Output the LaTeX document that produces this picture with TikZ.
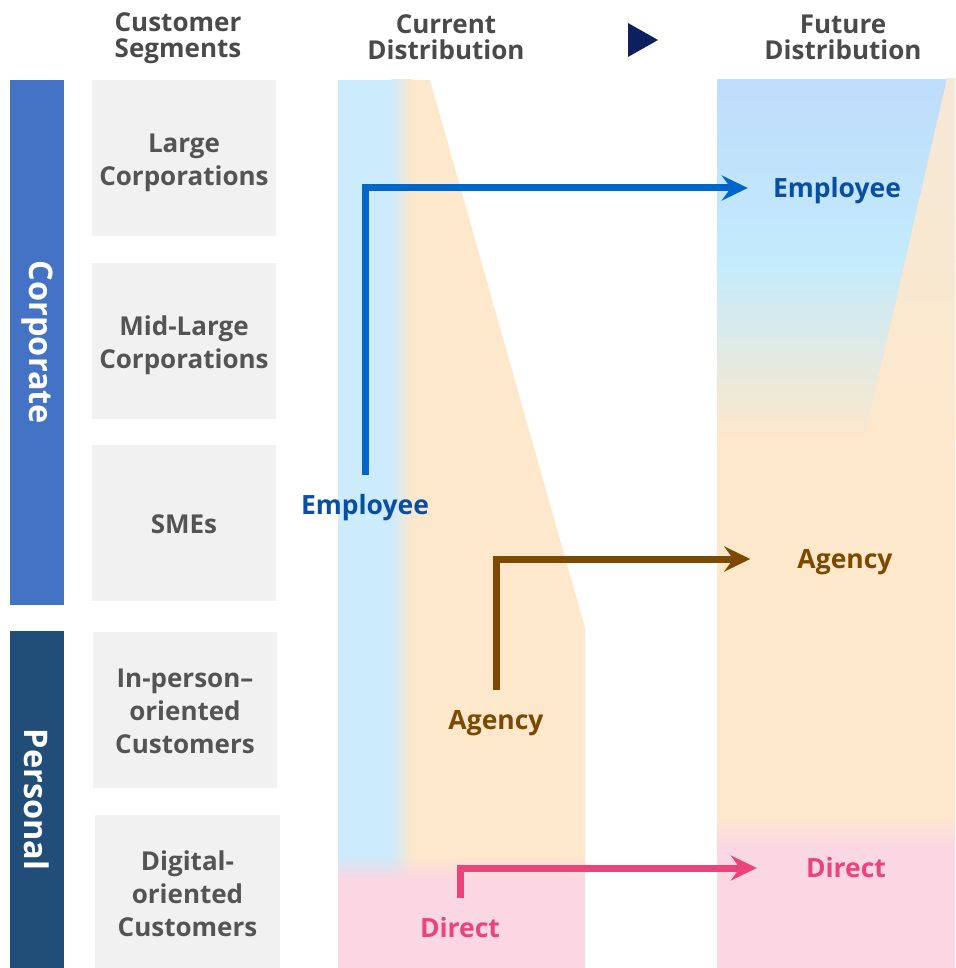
\documentclass[tikz,border=0pt]{standalone}
\usepackage{fontspec}
\setmainfont{Open Sans}
\usetikzlibrary{arrows.meta,fadings}

\definecolor{corpblue}{HTML}{4472C4}
\definecolor{persblue}{HTML}{214E78}
\definecolor{segfill}{HTML}{F1F1F1}
\definecolor{segtext}{HTML}{545454}
\definecolor{headtext}{HTML}{4A4A4A}
\definecolor{curblue}{HTML}{CCEBFC}
\definecolor{curorange}{HTML}{FDE8CC}
\definecolor{curpink}{HTML}{FAD7E3}
\definecolor{futblue}{HTML}{BEDCFB}
\definecolor{futcyan}{HTML}{C3EBFC}
\definecolor{wedgetan}{HTML}{F4E8D6}
\definecolor{navy}{HTML}{0D1F5C}
\definecolor{emptext}{HTML}{0B4EA0}
\definecolor{empline}{HTML}{0066CC}
\definecolor{agybrown}{HTML}{7B4A00}
\definecolor{dirpink}{HTML}{EB437B}

\begin{document}
\begin{tikzpicture}[
        x=1pt, y=-1pt,
        head/.style={align=center, text=headtext, font=\fontsize{26}{26}\selectfont\bfseries},
        segbox/.style={fill=segfill, minimum width=184pt, minimum height=156pt},
        segtxt/.style={align=center, text=segtext, font=\fontsize{26}{33}\selectfont\bfseries},
        groupbar/.style={rotate=-90, minimum height=54pt, text=white,
            font=\fontsize{32.5}{34}\selectfont\bfseries},
        chan/.style={inner sep=0pt, text height=21pt, text depth=2pt,
            font=\fontsize{26.5}{28}\selectfont\bfseries},
        flow/.style={line width=7pt, shorten <=18.5pt, -{Stealth[length=26pt, width=25pt, inset=9pt]}}
        ]
    \useasboundingbox (0,0) rectangle (955,968);

    % headers
    \node [head] (hseg) at (178,38) {Customer\\Segments};
    \node [head] (hcur) at (446,37) {Current\\Distribution};
    \node [head] (hfut) at (843,37) {Future\\Distribution};
    \fill [navy] (628,23) -- (658,40) -- (628,57) -- cycle;

    % customer groups
    \node [groupbar, fill=corpblue, minimum width=525pt] (corp) at (37,342.5) {Corporate};
    \node [groupbar, fill=persblue, minimum width=337pt] (pers) at (37,799.5) {Personal};

    % segments
    \node [segbox] (large) at (184,158) {};
    \node [segbox] (midlarge) at (184,341) {};
    \node [segbox] (smes) at (184,523) {};
    \node [segbox] (inperson) at (185,709.5) {};
    \node [segbox, minimum height=153pt, minimum width=185pt] (digital) at (187.5,891.5) {};
    \node [segtxt] at ([yshift=-5pt]large.center) {Large\\Corporations};
    \node [segtxt] at ([yshift=-4pt]midlarge.center) {Mid-Large\\Corporations};
    \node [segtxt] at ([yshift=-1pt]smes.center) {SMEs};
    \node [segtxt] at ([yshift=-2pt]inperson.center) {In-person–\\oriented\\Customers};
    \node [segtxt] at ([yshift=-2.5pt]digital.center) {Digital-\\oriented\\Customers};

    % current distribution
    \fill [curorange] (392,80) -- (430,80) -- (585,628) -- (585,880) -- (392,880) -- cycle;
    \fill [curblue] (338,80) rectangle (392,878);
    \shade [left color=curblue, right color=curorange] (391,80) rectangle (412,878);
    \fill [curpink] (338,878) rectangle (585,968);
    \fill [curpink, path fading=north] (338,856) rectangle (585,879);

    % future distribution
    \shade [top color=futblue, bottom color=futcyan] (717,80) rectangle (955,261);
    \shade [top color=futcyan, bottom color=curorange] (717,260) rectangle (955,441);
    \fill [curorange] (717,440) rectangle (955,816);
    \shade [top color=curorange, bottom color=curpink] (717,815) rectangle (955,846);
    \fill [curpink] (717,845) rectangle (955,968);
    \shade [top color=wedgetan, bottom color=curorange] (947,78) -- (955,78) -- (955,440) -- (864,440) -- cycle;

    % channels
    \node [chan, text=emptext] (empcur) at (365,505) {Employee};
    \node [chan, text=agybrown] (agycur) at (496,720) {Agency};
    \node [chan, text=dirpink] (dircur) at (460,928) {Direct};
    \node [chan, text=emptext] (empfut) at (837,188) {Employee};
    \node [chan, text=agybrown] (agyfut) at (845,559) {Agency};
    \node [chan, text=dirpink] (dirfut) at (846,868) {Direct};

    \draw [flow, empline, shorten >=25pt] (empcur.north) |- (empfut.west);
    \draw [flow, agybrown, shorten >=47pt] (agycur.north) |- (agyfut.west);
    \draw [flow, dirpink, shorten >=49pt] (dircur.north) |- (dirfut.west);
\end{tikzpicture}
\end{document}
